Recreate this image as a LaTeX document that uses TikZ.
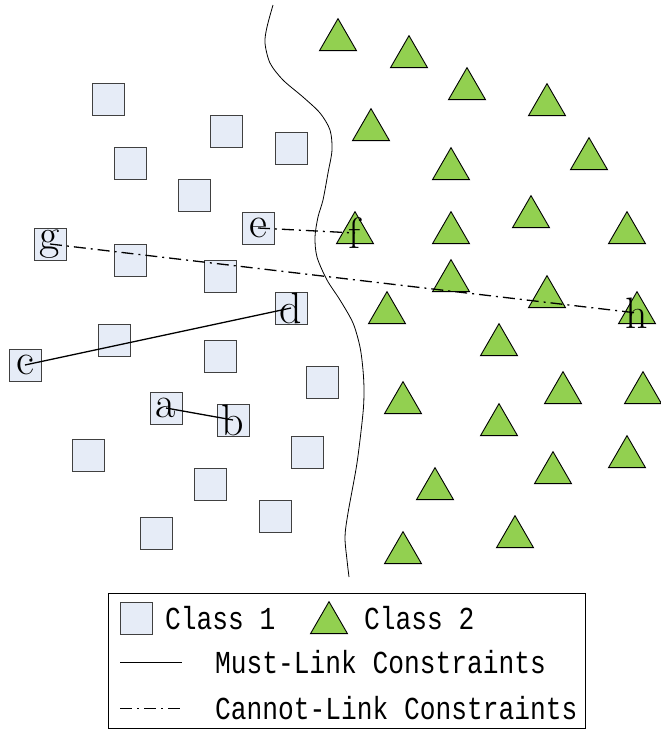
\documentclass[tikz,border=0pt]{standalone}
\usepackage{fontspec}
\usepackage{tikz}
\usetikzlibrary{shapes.geometric}
\newfontfamily\legendfont[FakeStretch=0.82]{Liberation Mono}
\definecolor{ptblue}{RGB}{230,236,247}
\definecolor{ptgreen}{RGB}{146,208,80}
\definecolor{ptedge}{RGB}{64,64,64}
\tikzset{
  sq/.style={rectangle,draw=ptedge,fill=ptblue,line width=0.9pt,minimum size=32pt,inner sep=0pt,font=\fontsize{44}{44}\selectfont},
  tri/.style={regular polygon,regular polygon sides=3,draw=black,fill=ptgreen,line width=0.9pt,minimum size=42.7pt,inner sep=0pt},
  letter/.style={font=\fontsize{44}{44}\selectfont,inner sep=0pt},
  mustlink/.style={line width=1.3pt,draw=black},
  cannotlink/.style={line width=1.3pt,draw=black,dash pattern=on 12pt off 5pt on 2pt off 5pt},
  legtext/.style={anchor=west,inner sep=0pt,font=\legendfont\fontsize{32}{32}\selectfont},
}
\begin{document}
\begin{tikzpicture}[x=1pt,y=-1pt]
  \useasboundingbox (0,0) rectangle (661,729);
  % boundary between the two classes
  \draw[line width=0.8pt] plot[smooth] coordinates {(273,5) (267,27) (265,43) (270,63) (283,80) (303,97) (320,113) (330,130) (332,150) (328,173) (323,200) (318,217) (315,237) (317,257) (327,280) (340,300) (353,323) (360,347) (363,370) (364,390) (363,413) (357,463) (348,513) (345,537) (347,560) (349,577)};
  % class 1
  \foreach \p [count=\i] in {(108,99),(226,131),(291,148),(130,163),(194,195),(130,260),(220,276),(114,340),(220,356),(322,382),(88,455),(307,452),(210,484),(275,516),(156,533)}
    \node[sq] (s\i) at \p {};
  \node[sq] (a) at (166,408) {a};
  \node[sq] (b) at (233,420) {b};
  \node[sq] (c) at (25,365) {c};
  \node[sq] (d) at (291,308) {d};
  \node[sq] (e) at (258,228) {e};
  \node[sq] (g) at (50,244) {g};
  % class 2
  \foreach \p [count=\i] in {(338,40),(409,57),(467,89),(547,105),(371,130),(589,159),(451,169),(531,217),(451,233),(627,233),(451,281),(547,297),(387,313),(499,345),(563,393),(643,393),(403,403),(499,425),(627,457),(553,473),(435,489),(515,537),(403,553)}
    \node[tri] (t\i) at \p {};
  \node[tri,label={[letter]center:f}] (f) at (355,233) {};
  \node[tri,label={[letter]center:h}] (h) at (637,313) {};
  % constraints
  \draw[mustlink] (a.center) -- (b.center);
  \draw[mustlink] (c.center) -- (d.center);
  \draw[cannotlink] (e.center) -- (f.center);
  \draw[cannotlink] (g.center) -- (h.center);
  % legend
  \node[draw=black,line width=0.8pt,minimum width=477pt,minimum height=135pt,inner sep=0pt] (legend) at (346.5,660.5) {};
  \node[sq] (legsq) at (136,618) {};
  \node[legtext] (legc1) at (165,618) {Class 1};
  \node[tri] (legtri) at (329,623) {};
  \node[legtext] (legc2) at (364,618) {Class 2};
  \coordinate (ml1) at (120,662);
  \coordinate (ml2) at (182,662);
  \draw[mustlink,line width=1pt] (ml1) -- (ml2);
  \node[legtext] (legml) at (215,662) {Must-Link Constraints};
  \coordinate (cl1) at (120,708);
  \coordinate (cl2) at (182,708);
  \draw[cannotlink,line width=1pt] (cl1) -- (cl2);
  \node[legtext] (legcl) at (215,708) {Cannot-Link Constraints};
\end{tikzpicture}
\end{document}
